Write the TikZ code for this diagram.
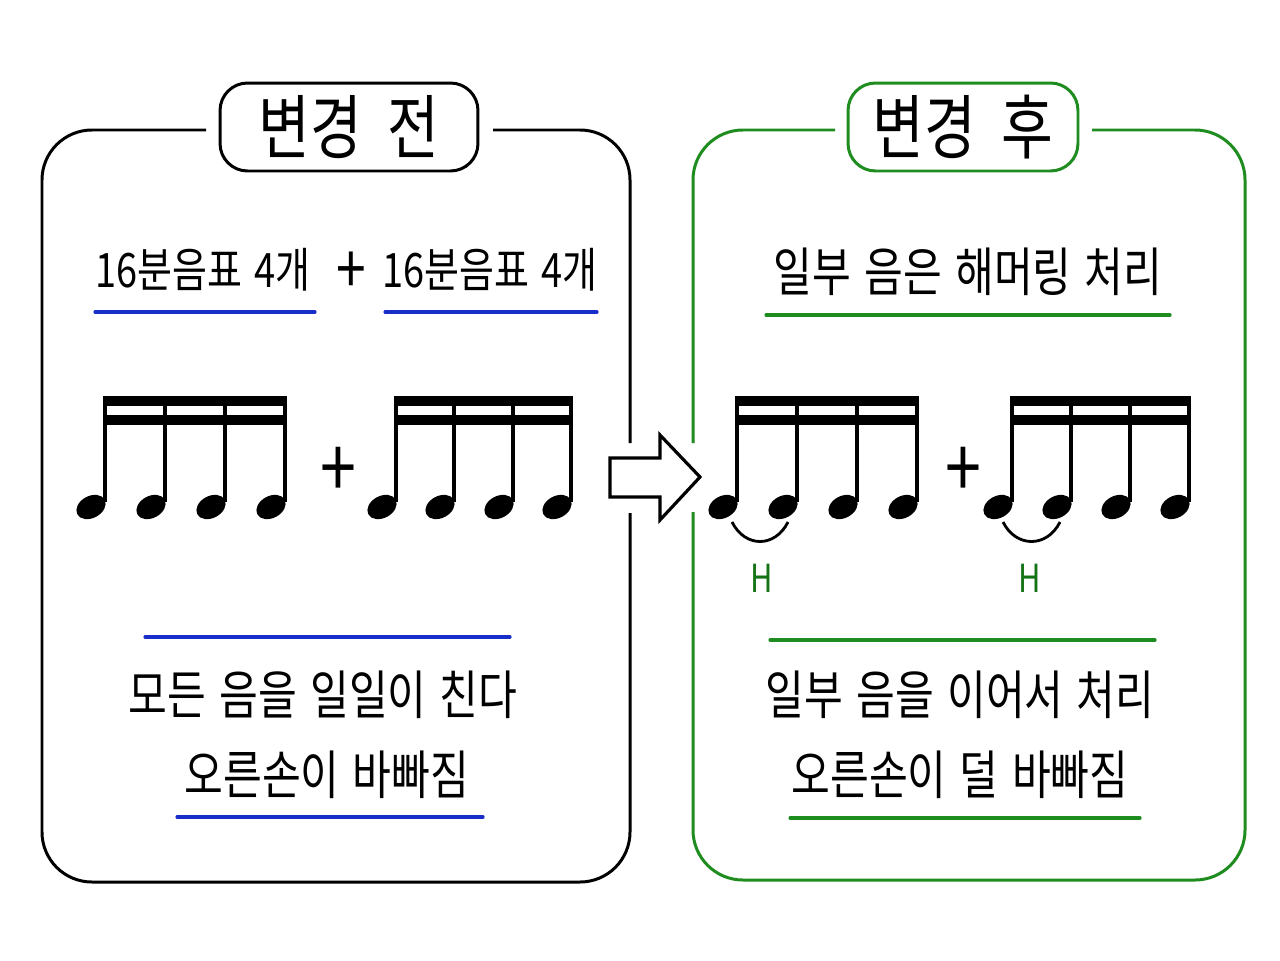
\documentclass[tikz,border=0pt]{standalone}
\usepackage{fontspec}
\newfontfamily\krfont[FakeStretch=0.8, WordSpace=1.4]{Noto Sans CJK KR}
\usetikzlibrary{shapes.geometric}
\definecolor{inkblue}{RGB}{25,45,200}
\definecolor{inkgreen}{RGB}{30,140,30}
\definecolor{hgreen}{RGB}{20,115,20}
\tikzstyle{frame} = [line width=1.7pt, rounded corners=1cm]
\tikzstyle{titlebox} = [rectangle, rounded corners=0.55cm, minimum height=1.76cm, line width=1.7pt, draw=black, font=\krfont\fontsize{40}{44}\selectfont]
\tikzstyle{handtext} = [font=\krfont\fontsize{30}{34}\selectfont, inner sep=0pt]
\tikzstyle{counttext} = [font=\krfont\fontsize{27}{31}\selectfont, inner sep=0pt]
\tikzstyle{plussign} = [font=\krfont\fontsize{46}{50}\selectfont, inner sep=0pt]
\tikzstyle{underline} = [line width=1.8pt, line cap=round]
\tikzstyle{stem} = [line width=2.2pt]
\tikzstyle{bigarrow} = [line width=1.8pt, line join=miter, fill=white]

\begin{document}
\begin{tikzpicture}[x=0.02cm, y=-0.02cm]
\useasboundingbox (0,0) rectangle (1280,960);
\fill[white] (0,0) rectangle (1280,960);

% Titles
\node (beforeTitle) [titlebox, minimum width=5.16cm] at (349,127) {변경\hspace{0.5cm}전};
\node (afterTitle) [titlebox, draw=inkgreen, minimum width=4.6cm] at (963,127) {변경\hspace{0.5cm}후};

% Frames
\draw[frame] (630,443) -- (630,130) -- (493,130);
\draw[frame] (206,130) -- (42,130) -- (42,882) -- (630,882) -- (630,513);
\draw[frame, draw=inkgreen] (693,443) -- (693,130) -- (835,130);
\draw[frame, draw=inkgreen] (1092,130) -- (1245,130) -- (1245,880) -- (693,880) -- (693,512);

% Big arrow
\draw[bigarrow] (610,458) -- (660,458) -- (660,435) -- (700,477) -- (660,520) -- (660,497) -- (610,497) -- cycle;

% Texts
\node (countA) [counttext] at (203,270) {16분음표 4개};
\node (plusTop) [plussign, font=\krfont\fontsize{38}{42}\selectfont] at (351,273) {+};
\node (countB) [counttext] at (490,270) {16분음표 4개};
\node (hammer) [handtext] at (968,272) {일부 음은 해머링 처리};
\node (allNotes) [handtext] at (323,695) {모든 음을 일일이 친다};
\node (busyHand) [handtext] at (327,775) {오른손이 바빠짐};
\node (linkNotes) [handtext] at (960,695) {일부 음을 이어서 처리};
\node (easyHand) [handtext] at (960,775) {오른손이 덜 바빠짐};

% Underlines
\draw[underline, inkblue] (95,312) -- (315,312);
\draw[underline, inkblue] (385,312) -- (597,312);
\draw[underline, inkblue] (145,637) -- (510,637);
\draw[underline, inkblue] (177,817) -- (483,817);
\draw[underline, inkgreen] (766,315) -- (1170,315);
\draw[underline, inkgreen] (770,640) -- (1155,640);
\draw[underline, inkgreen] (790,818) -- (1140,818);

% Notes
\foreach \sx in {105,165,225,285,396,454,513,571,737,797,857,917,1012,1071,1130,1189} {
  \draw[stem] (\sx,502) -- (\sx,397);
  \fill[shift={(\sx-14,507)}, rotate=28] (0,0) ellipse (0.31cm and 0.22cm);
}
\foreach \a/\b in {105/285,396/571,737/917,1012/1189} {
  \fill (\a-2,396) rectangle (\b+2,406);
  \fill (\a-2,415) rectangle (\b+2,425);
}
\node (plusLeft) [plussign] at (338,472) {+};
\node (plusRight) [plussign] at (963,472) {+};

% Hammer-ons
\draw[line width=1.6pt] (732,522) .. controls (745,548) and (775,548) .. (788,522);
\draw[line width=1.6pt] (1003,522) .. controls (1016,548) and (1047,548) .. (1060,522);
\node (hammerA) [font=\krfont\fontsize{22}{26}\selectfont, text=hgreen] at (762,578) {H};
\node (hammerB) [font=\krfont\fontsize{22}{26}\selectfont, text=hgreen] at (1030,578) {H};

\end{tikzpicture}
\end{document}
